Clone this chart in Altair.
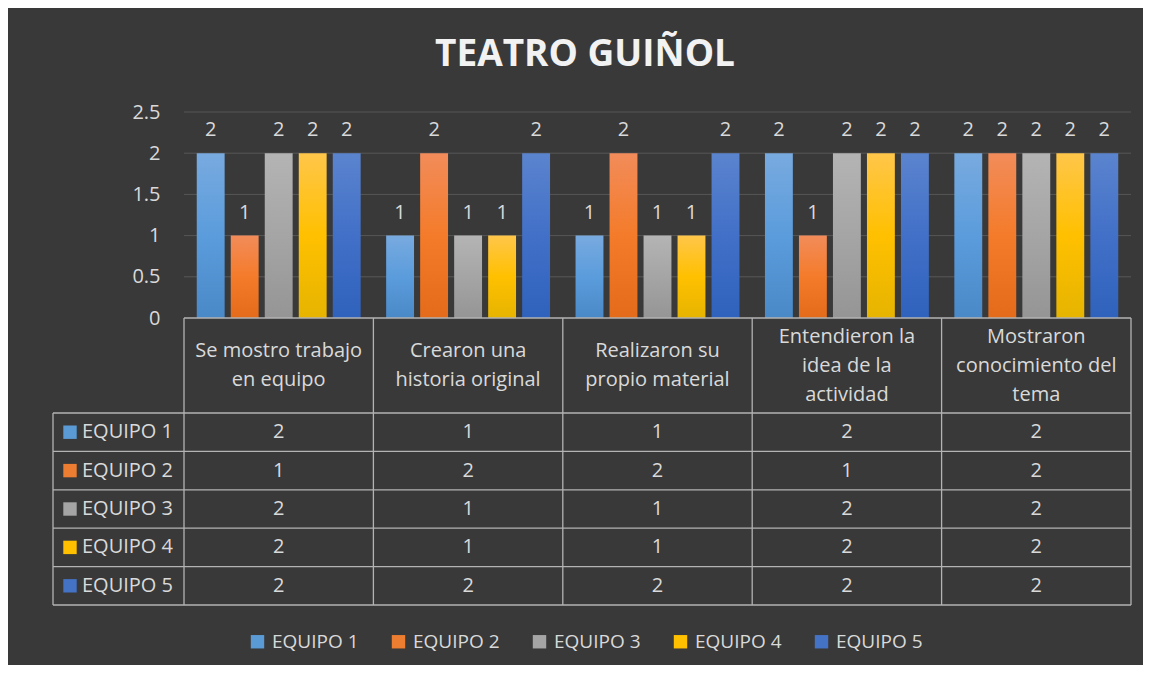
import altair as alt
import pandas as pd

# ---------------- data ----------------
criterios = [
    "Se mostro trabajo en equipo",
    "Crearon una historia original",
    "Realizaron su propio material",
    "Entendieron la idea de la actividad",
    "Mostraron conocimiento del tema",
]
encabezados = [
    "Se mostro trabajo\nen equipo",
    "Crearon una\nhistoria original",
    "Realizaron su\npropio material",
    "Entendieron la\nidea de la\nactividad",
    "Mostraron\nconocimiento del\ntema",
]
equipos = ["EQUIPO 1", "EQUIPO 2", "EQUIPO 3", "EQUIPO 4", "EQUIPO 5"]
equipo_1 = [2, 1, 1, 2, 2]
equipo_2 = [1, 2, 2, 1, 2]
equipo_3 = [2, 1, 1, 2, 2]
equipo_4 = [2, 1, 1, 2, 2]
equipo_5 = [2, 2, 2, 2, 2]
series = [equipo_1, equipo_2, equipo_3, equipo_4, equipo_5]
eje_y = [0, 0.5, 1, 1.5, 2, 2.5]

# ---------------- styles ----------------
colores = ["#5B9BD5", "#ED7D31", "#A5A5A5", "#FFC000", "#4472C4"]
degradados = [
    ("#78AADF", "#5B9CDC", "#4A89C8"),
    ("#F28C5A", "#F47B2A", "#E36B1A"),
    ("#B4B4B4", "#A5A5A5", "#959595"),
    ("#FFC64A", "#FFC000", "#E6B400"),
    ("#5B84CE", "#4270C8", "#2F62BC"),
]
TXT = "#d9d9d9"
LINE = "#b3b3b3"
GRID = "#575757"
BG = "#393939"
FONT = "Open Sans"
LINE_H = 29

# layout (pixels)
COL_PX, LEFT_PX = 189.4, 131
BAR_PX, HEAD_PX, ROW_PX = 206, 95, 38.4
PPU = BAR_PX / 2.5
ncat, nrow = len(criterios), len(equipos)
x_left = -LEFT_PX / COL_PX
y_min = -(HEAD_PX + nrow * ROW_PX) / PPU


def yrow(px_below_zero):
    return -px_below_zero / PPU


XQ = alt.Scale(domain=[x_left, ncat], nice=False, zero=False)
YS = alt.Scale(domain=[y_min, 2.5], nice=False, zero=False)
XB = alt.Scale(domain=criterios, paddingInner=0, paddingOuter=LEFT_PX / COL_PX / 2, align=1)
XO = alt.Scale(domain=equipos, paddingInner=0.18, paddingOuter=0.375)

# ---------------- tables ----------------
bars_df = pd.DataFrame(
    [{"criterio": c, "equipo": e, "valor": s[i]}
     for e, s in zip(equipos, series) for i, c in enumerate(criterios)]
)
grid_df = pd.DataFrame({"t": eje_y[1:], "x0": 0, "x1": ncat})
header_df = pd.DataFrame(
    {
        "cx": [i + 0.5 for i in range(ncat)],
        "cy": [yrow(HEAD_PX / 2 - (h.count("\n")) * LINE_H / 2) for h in encabezados],
        "text": encabezados,
    }
)
cells_df = pd.DataFrame(
    [{"cx": i + 0.5, "cy": yrow(HEAD_PX + (k + 0.5) * ROW_PX), "text": str(s[i])}
     for k, s in enumerate(series) for i in range(ncat)]
)
rowlab_df = pd.DataFrame(
    {
        "equipo": equipos,
        "cy": [yrow(HEAD_PX + (k + 0.5) * ROW_PX) for k in range(nrow)],
        "sx": x_left + 17 / COL_PX,
        "lx": x_left + 29 / COL_PX,
    }
)
rules = [{"x": 0, "x2": ncat, "y": 0, "y2": 0}]
for k in range(nrow + 1):
    yy = yrow(HEAD_PX + k * ROW_PX)
    rules.append({"x": x_left, "x2": ncat, "y": yy, "y2": yy})
for i in range(ncat + 1):
    rules.append({"x": i, "x2": i, "y": 0, "y2": y_min})
rules.append({"x": x_left, "x2": x_left, "y": yrow(HEAD_PX), "y2": y_min})
rules_df = pd.DataFrame(rules)


def grad(c):
    return {
        "gradient": "linear", "x1": 0, "y1": 0, "x2": 0, "y2": 1,
        "stops": [{"offset": 0, "color": c[0]}, {"offset": 0.5, "color": c[1]},
                  {"offset": 1, "color": c[2]}],
    }


fill_cond = alt.FillValue(
    value=grad(degradados[-1]),
    condition=[{"test": f"datum.equipo === '{e}'", "value": grad(g)}
               for e, g in zip(equipos[:-1], degradados[:-1])],
)

yaxis = alt.Axis(
    values=eje_y, labelExpr="datum.value + ''", domain=False, ticks=False, grid=False,
    labelFontSize=20, labelColor=TXT, labelFont=FONT, labelPadding=24,
    offset=-LEFT_PX, title=None,
)


def Y(field):
    return alt.Y(field, scale=YS, axis=yaxis)


# ---------------- layers ----------------
grid = alt.Chart(grid_df).mark_rule(color=GRID, strokeWidth=1).encode(
    x=alt.X("x0:Q", scale=XQ, axis=None), x2="x1:Q", y=Y("t:Q"),
)

bars = alt.Chart(bars_df).mark_bar(strokeWidth=0).encode(
    x=alt.X("criterio:N", sort=criterios, scale=XB, axis=None),
    xOffset=alt.XOffset("equipo:N", sort=equipos, scale=XO),
    y=Y("valor:Q"),
    y2=alt.datum(0),
    fill=fill_cond,
)

labels = alt.Chart(bars_df).mark_text(
    dy=-23, fontSize=20, color=TXT, font=FONT, baseline="middle"
).encode(
    x=alt.X("criterio:N", sort=criterios, scale=XB, axis=None),
    xOffset=alt.XOffset("equipo:N", sort=equipos, scale=XO),
    y=Y("valor:Q"),
    text="valor:Q",
)

lines = alt.Chart(rules_df).mark_rule(color=LINE, strokeWidth=1.3).encode(
    x=alt.X("x:Q", scale=XQ, axis=None), x2="x2:Q", y=Y("y:Q"), y2="y2:Q",
)

header = alt.Chart(header_df).mark_text(
    lineBreak="\n", lineHeight=LINE_H, fontSize=20, color=TXT, font=FONT,
    baseline="middle", align="center",
).encode(
    x=alt.X("cx:Q", scale=XQ, axis=None), y=Y("cy:Q"), text="text:N",
)

cells = alt.Chart(cells_df).mark_text(
    fontSize=20, color=TXT, font=FONT, baseline="middle", align="center",
).encode(
    x=alt.X("cx:Q", scale=XQ, axis=None), y=Y("cy:Q"), text="text:N",
)

swatches = alt.Chart(rowlab_df).mark_point(
    shape="square", filled=True, size=180, opacity=1, strokeWidth=0
).encode(
    x=alt.X("sx:Q", scale=XQ, axis=None),
    y=Y("cy:Q"),
    color=alt.Color(
        "equipo:N",
        scale=alt.Scale(domain=equipos, range=colores),
        legend=alt.Legend(
            orient="none", legendX=195, legendY=520, direction="horizontal", title=None,
            symbolType="square", symbolSize=180, symbolStrokeWidth=0,
            labelFontSize=19, labelColor=TXT, labelFont=FONT, labelOffset=5,
            columnPadding=30, padding=0,
        ),
    ),
)

rowlabs = alt.Chart(rowlab_df).mark_text(
    fontSize=20, color=TXT, font=FONT, baseline="middle", align="left",
).encode(
    x=alt.X("lx:Q", scale=XQ, axis=None), y=Y("cy:Q"), text="equipo:N",
)

chart = (
    alt.layer(grid, bars, labels, lines, header, cells, swatches, rowlabs)
    .resolve_scale(x="independent")
    .properties(
        width=1078, height=493,
        autosize=alt.AutoSizeParams(type="none"),
        padding={"left": 45, "top": 104, "right": 12, "bottom": 60},
        background=BG,
        title=alt.TitleParams(
            "TEATRO GUIÑOL", fontSize=37, font=FONT, fontWeight="bold",
            color="#f2f2f2", anchor="middle", offset=-1, baseline="alphabetic", dx=-7,
        ),
    )
    .configure(font=FONT, view=alt.ViewConfig(stroke="transparent", strokeWidth=0))
)

chart.save("out.html", embed_options={"renderer": "svg", "actions": False})
